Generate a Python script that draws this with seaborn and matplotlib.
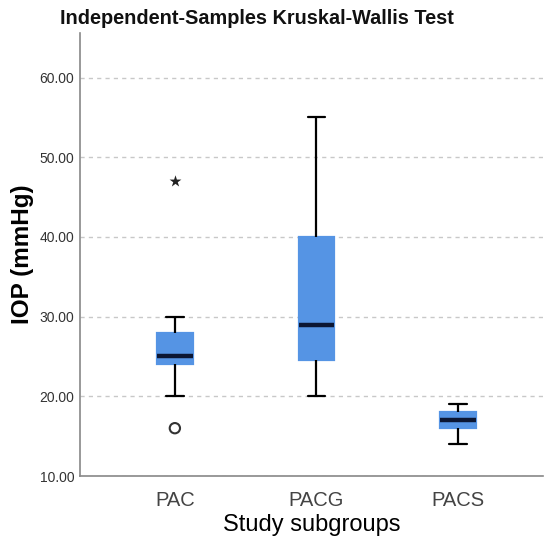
import numpy as np
import pandas as pd
import matplotlib
matplotlib.use("Agg")
import matplotlib.pyplot as plt
import seaborn as sns

# IOP readings (mmHg) per study subgroup
groups = ["PAC", "PACG", "PACS"]
pac = [16, 20, 24, 24, 25, 25, 26, 28, 28, 30, 47]
pacg = [20, 24, 24.5, 27, 29, 35, 40, 45, 55]
pacs = [14, 15, 16, 16.5, 17, 17.5, 18, 18.5, 19]
y_ticks = [10, 20, 30, 40, 50, 60]

df = pd.DataFrame({
    "group": ["PAC"] * len(pac) + ["PACG"] * len(pacg) + ["PACS"] * len(pacs),
    "iop": pac + pacg + pacs,
})

sns.set_style("white")
plt.rcParams["font.family"] = ["Liberation Sans", "DejaVu Sans"]

fig = plt.figure(figsize=(5.5, 5.45), dpi=100)
ax = fig.add_axes([80 / 550, 69 / 545, 463 / 550, 443 / 545])

box_col = "#5594e4"
sns.boxplot(data=df, x="group", y="iop", order=groups, ax=ax, width=0.25,
            whis=1.5, showfliers=False, color=box_col, saturation=1,
            linewidth=1.6,
            boxprops=dict(facecolor=box_col, edgecolor=box_col),
            whiskerprops=dict(color="black", linewidth=1.6),
            capprops=dict(color="black", linewidth=1.6),
            medianprops=dict(color="#0b1633", linewidth=3.2),
            zorder=3)

# SPSS style outliers: circle beyond 1.5 IQR, star beyond 3 IQR
rows = []
for g in groups:
    v = df.loc[df["group"] == g, "iop"].to_numpy()
    q1, q3 = np.percentile(v, [25, 75])
    iqr = q3 - q1
    for val in v:
        if val < q1 - 3 * iqr or val > q3 + 3 * iqr:
            rows.append((g, val, "extreme"))
        elif val < q1 - 1.5 * iqr or val > q3 + 1.5 * iqr:
            rows.append((g, val, "mild"))
out = pd.DataFrame(rows, columns=["group", "iop", "kind"])
pos = {g: i for i, g in enumerate(groups)}
out["x"] = out["group"].map(pos)
mild = out[out["kind"] == "mild"]
ext = out[out["kind"] == "extreme"]
sns.scatterplot(data=mild, x="x", y="iop", ax=ax, marker="o", s=55,
                facecolor="none", edgecolor="#333333", linewidth=1.5, zorder=4)
sns.scatterplot(data=ext, x="x", y="iop", ax=ax, marker="*", s=80,
                color="#222222", linewidth=0, zorder=4)

ax.set_xlim(-0.67, 2.6)
ax.set_ylim(10, 65.6)
ax.set_yticks(y_ticks)
ax.set_yticklabels([f"{t:.2f}" for t in y_ticks], fontsize=10, color="#333333")
ax.set_xticks(range(len(groups)))
ax.set_xticklabels(groups, fontsize=14.5, color="#444444")
ax.yaxis.grid(True, linestyle=(0, (3, 3)), color="#c8c8c8", linewidth=1, zorder=0)
ax.set_axisbelow(True)

for s in ["top", "right"]:
    ax.spines[s].set_visible(False)
for s in ["left", "bottom"]:
    ax.spines[s].set_color("#888888")
    ax.spines[s].set_linewidth(1.2)
ax.tick_params(axis="both", length=0, pad=4)
ax.tick_params(axis="x", pad=11)

ax.set_xlabel("Study subgroups", fontsize=17, color="black", labelpad=3)
ax.set_ylabel("IOP (mmHg)", fontsize=17.5, fontweight="bold", color="black", labelpad=4)
fig.text(257 / 550, 1 - 18 / 545, "Independent-Samples Kruskal-Wallis Test",
         ha="center", va="center", fontsize=14.3, fontweight="bold", color="#111111")

fig.savefig("out.png", dpi=100)
